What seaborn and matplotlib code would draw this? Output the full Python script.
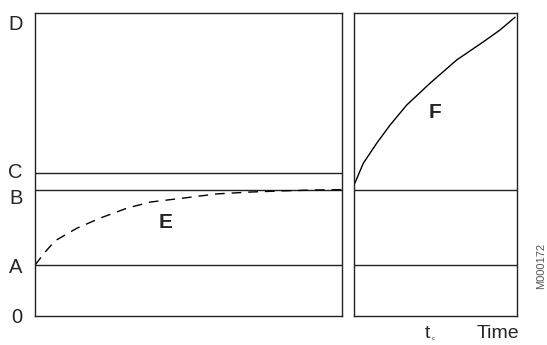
import numpy as np
import pandas as pd
import seaborn as sns
import matplotlib.pyplot as plt

# reference levels (fraction of full height) and their axis labels
level_labels = ["0", "A", "B", "C", "D"]
level_values = [0.0, 0.168, 0.416, 0.472, 1.0]
label_pos = [0.003, 0.167, 0.396, 0.479, 0.970]

# dashed curve E (left panel), time 0..10
e_time = [0, 0.33, 0.65, 1.37, 2.12, 3.0, 3.75, 4.82, 5.93, 7.0, 8.08, 9.19, 10]
e_level = [0.168, 0.211, 0.248, 0.290, 0.323, 0.356, 0.376, 0.389, 0.403, 0.409, 0.413, 0.416, 0.417]

# solid curve F (right panel), time after t_c
f_time = [0, 0.57, 1.39, 2.21, 3.23, 4.66, 6.3, 7.94, 8.96, 9.88]
f_level = [0.432, 0.504, 0.570, 0.630, 0.696, 0.768, 0.845, 0.905, 0.944, 0.986]

sns.set_style("white")
plt.rcParams['font.family'] = ['Liberation Sans', 'DejaVu Sans']

fig = plt.figure(figsize=(5.47, 3.45), dpi=100)
ax1 = fig.add_axes([35 / 547, 1 - 316 / 345, 307 / 547, 303 / 345])
ax2 = fig.add_axes([354 / 547, 1 - 316 / 345, 163 / 547, 303 / 345])

line_col = "#222222"
for ax in (ax1, ax2):
    ax.set_xlim(0, 10)
    ax.set_ylim(0, 1)
    ax.set_xticks([])
    ax.set_yticks([])
    for s in ax.spines.values():
        s.set_color(line_col)
        s.set_linewidth(1.0)

# horizontal reference levels
for v in level_values[1:4]:
    ax1.axhline(v, color=line_col, lw=1.0)
ax2.axhline(level_values[1], color=line_col, lw=1.0)
ax2.axhline(level_values[2], color=line_col, lw=1.0)

df_e = pd.DataFrame({"t": e_time, "y": e_level})
sns.lineplot(data=df_e, x="t", y="y", ax=ax1, color="black", lw=1.0,
             linestyle=(0, (7, 5)))
df_f = pd.DataFrame({"t": f_time, "y": f_level})
sns.lineplot(data=df_f, x="t", y="y", ax=ax2, color="black", lw=1.0)

for ax in (ax1, ax2):
    ax.set_xlabel("")
    ax.set_ylabel("")

# level labels
ax1.set_yticks(label_pos)
ax1.set_yticklabels(level_labels, fontsize=14.5)
ax1.tick_params(axis="y", length=0, pad=9)

ax1.text(4.25, 0.31, "E", fontsize=15, fontweight="bold", ha="center", va="center")
ax2.text(5.0, 0.67, "F", fontsize=15, fontweight="bold", ha="center", va="center")

fig.text(427 / 547, 1 - 333 / 345, "t", fontsize=14, ha="center", va="center")
fig.text(433 / 547, 1 - 339 / 345, "c", fontsize=4, ha="center", va="center")
fig.text(498 / 547, 1 - 333 / 345, "Time", fontsize=14, ha="center", va="center")
fig.text(541 / 547, 1 - 266 / 345, "M000172", fontsize=8, rotation=90,
         color="#555555", ha="center", va="center")

fig.savefig("out.png", dpi=100)
